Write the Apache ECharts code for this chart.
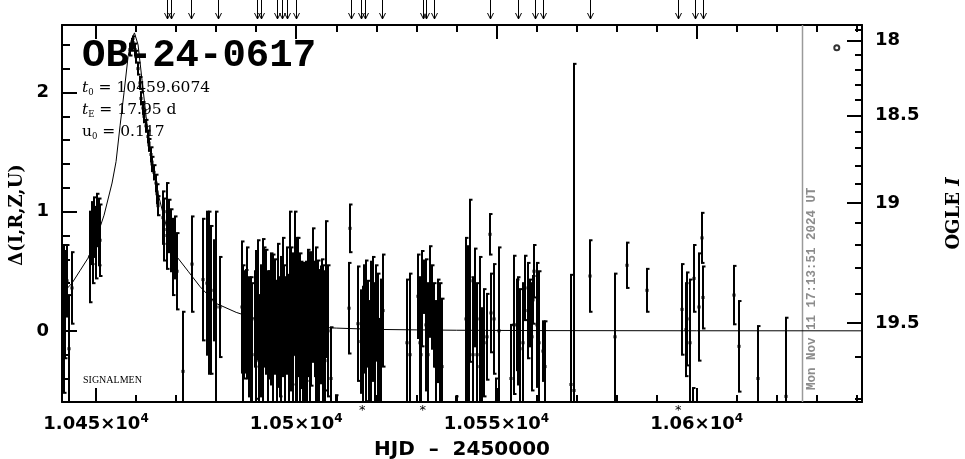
<!DOCTYPE html>
<html><head><meta charset="utf-8">
<script src="https://cdn.jsdelivr.net/npm/echarts@6/dist/echarts.min.js"></script>
<style>html,body{margin:0;padding:0;background:#fff}#c{width:965px;height:459px}</style>
</head><body><div id="c"></div>
<script>
// ---- axis ranges & ticks ----
const XMIN = 10441.5, XMAX = 10641.3;
const YMIN = -0.597, YMAX = 2.566;
const xMajor = [10450, 10500, 10550, 10600];
const xMinor = [10450,10460,10470,10480,10490,10500,10510,10520,10530,10540,10550,10560,10570,10580,10590,10600,10610,10620,10630,10640];
const leftMajor = [0, 1, 2];
const leftMinor = [-0.4,-0.2,0.2,0.4,0.6,0.8,1.2,1.4,1.6,1.8,2.2,2.4];
const rightMajorLabels = ['18', '18.5', '19', '19.5'];
const rightMajorPos = [2.437, 1.807, 1.072, 0.067];
const rightMinorPos = [2.53, 2.316, 2.190, 2.064, 1.939, 1.672, 1.533, 1.387, 1.232, 0.907, 0.720, 0.529, 0.311, -0.219, -0.569];

// ---- model curve ----
const curveT = [10441.5,10444,10446,10448,10450,10452,10454,10455,10456,10457,10458,10458.8,10459.6,10460.5,10461.5,10462.5,10463.5,10464.5,10465.5,10467,10468.5,10470,10473,10476,10480,10485,10490,10495,10500,10505,10510,10520,10530,10540,10560,10600,10641.3];
const curveD = [0.31,0.40,0.505,0.61,0.77,0.97,1.24,1.42,1.72,2.00,2.30,2.44,2.50,2.40,2.10,1.80,1.52,1.32,1.15,0.95,0.76,0.63,0.50,0.37,0.23,0.155,0.10,0.066,0.045,0.032,0.023,0.012,0.008,0.005,0.002,0.0006,0.0002];

// ---- observations: time, delta, error ----
const obsT = [
10441.6,10441.9,10442.3,10442.7,10443.3,10444.0,
10448.6,10448.9,10449.2,10449.5,10449.9,10450.3,10450.7,10451.1,
10458.6,10458.9,10459.3,10459.7,10460.1,10460.5,10460.9,10461.3,10461.7,10462.1,10462.5,10462.9,10463.3,10463.7,10464.1,10464.5,10464.9,10465.2,10465.5,
10466.6,10467.0,10467.6,10467.8,10468.3,10468.8,10469.3,10469.8,10470.2,10471.7,10473.9,
10476.7,10477.6,10478.1,10478.8,10479.4,10480.0,10480.9,
10486.5,10487.0,10487.5,10488.3,10488.8,10489.6,10490.5,10491.1,10491.7,10492.5,10493.2,10494.2,10494.8,10495.5,10496.0,10496.3,10496.7,10497.0,10497.6,10498.1,10498.4,10498.9,10499.2,10499.6,10500.2,10500.4,10500.9,10501.3,10501.8,10502.1,10502.5,10502.9,10503.4,10503.8,10504.2,10504.6,10505.0,10505.4,10505.8,10506.1,10506.7,10507.1,10507.5,10507.9,10508.7,10510.0,
10486.8,10487.8,10489.0,10490.0,10490.8,10492.0,10492.9,10493.7,10495.2,10497.3,10498.6,10499.9,10501.0,10501.6,10502.7,10503.6,10504.9,10505.6,10506.4,10507.3,
10513.3,10513.5,10515.4,10516.2,10516.6,10517.5,10517.9,10518.6,10519.1,10519.7,10520.4,10521.1,10521.6,10516.9,10518.2,10520.0,10520.8,
10527.6,10528.5,10530.4,10530.8,10531.5,10532.0,10532.5,10532.9,10533.5,10534.4,10535.0,10535.5,10536.3,10531.2,10533.9,10536.0,
10540.0,10542.4,10542.8,10543.5,10544.1,10544.7,10545.2,10545.8,10546.4,10547.0,10547.7,10548.3,10548.7,10549.5,10549.9,10550.6,10543.2,10546.0,
10553.7,10554.3,10555.2,10555.5,10556.6,10557.2,10557.8,10558.5,10559.1,10559.5,10560.2,10560.7,10561.6,10562.2,10556.0,10558.9,
10568.6,10569.3,10573.4,10579.5,10582.7,10587.5,10596.3,10597.3,10597.6,10598.4,10599.0,10599.4,10600.5,10601.4,10601.5,10609.4,10610.5,10615.4,10622.4
];
const obsD = [
-0.38,0.10,0.22,0.42,-0.15,0.36,
0.62,0.82,0.70,0.87,0.74,0.93,0.83,0.76,
2.36,2.40,2.42,2.36,2.30,2.20,2.08,1.95,1.87,1.80,1.72,1.63,1.56,1.48,1.40,1.33,1.24,1.15,1.05,
0.95,0.85,1.00,0.80,0.88,0.76,0.62,0.70,0.50,-0.34,0.56,
0.43,0.40,0.32,0.26,0.34,0.20,0.20,
0.20,0.05,0.08,-0.05,-0.15,0.10,0.26,0.00,-0.03,0.16,0.05,-0.10,0.12,0.13,-0.05,-0.10,0.20,0.10,0.17,-0.08,0.32,0.05,-0.05,0.40,0.00,0.20,-0.12,0.05,0.12,-0.10,0.08,0.15,-0.05,0.02,0.30,0.10,-0.08,-0.15,0.06,0.05,-0.20,0.00,0.35,0.00,-0.40,-0.70,
-0.10,0.15,-0.20,0.05,-0.25,0.20,-0.15,0.10,-0.20,-0.15,0.10,-0.20,0.15,-0.25,-0.15,0.20,0.15,-0.30,0.18,-0.25,
0.19,0.86,0.06,-0.09,-0.15,0.00,0.06,-0.05,0.10,-0.20,-0.05,-0.15,0.17,0.10,-0.25,0.15,-0.30,
-0.10,-0.20,0.29,-0.10,0.27,0.37,0.05,-0.20,0.33,0.05,-0.30,0.00,-0.30,-0.20,0.20,-0.10,
-0.70,0.10,0.05,0.42,-0.20,0.28,-0.20,0.10,-0.35,-0.10,-0.05,0.81,0.15,0.10,-0.60,0.00,-0.15,-0.30,
-0.40,0.05,0.05,0.00,-0.10,0.36,0.17,0.15,0.26,0.50,0.05,-0.10,-0.17,-0.30,-0.15,-0.05,
-0.45,-0.50,0.46,-0.05,0.55,0.34,0.18,0.01,0.10,-0.10,-0.60,0.44,0.20,0.78,0.28,0.30,-0.13,-0.40,-0.55
];
const obsE = [
0.30,0.62,0.45,0.30,0.45,0.30,
0.38,0.26,0.30,0.25,0.30,0.22,0.28,0.30,
0.05,0.05,0.05,0.05,0.05,0.05,0.05,0.05,0.05,0.05,0.05,0.05,0.05,0.06,0.06,0.06,0.07,0.08,0.08,
0.22,0.26,0.24,0.28,0.22,0.26,0.32,0.26,0.32,0.50,0.40,
0.51,0.60,0.68,0.62,0.42,0.80,0.42,
0.55,0.45,0.43,0.50,0.60,0.40,0.50,0.55,0.80,0.52,0.45,0.74,0.48,0.60,0.50,0.72,0.58,0.45,0.53,0.55,0.68,0.50,0.70,0.60,0.78,0.58,0.55,0.53,0.45,0.67,0.50,0.53,0.71,0.48,0.56,0.48,0.55,0.74,0.45,0.49,0.75,0.50,0.57,0.55,0.43,0.16,
0.65,0.55,0.60,0.62,0.55,0.50,0.65,0.55,0.62,0.60,0.60,0.65,0.50,0.55,0.60,0.45,0.55,0.45,0.42,0.55,
0.38,0.20,0.48,0.43,0.52,0.59,0.36,0.63,0.52,0.60,0.53,0.58,0.47,0.45,0.50,0.40,0.40,
0.53,0.68,0.35,0.55,0.40,0.22,0.55,0.60,0.38,0.35,0.55,0.43,0.57,0.50,0.35,0.50,
0.15,0.68,0.66,0.68,0.65,0.41,0.60,0.52,0.54,0.45,0.36,0.17,0.33,0.46,0.20,0.70,0.60,0.45,
0.45,0.58,0.38,0.45,0.50,0.27,0.40,0.28,0.20,0.22,0.52,0.60,0.25,0.38,0.50,0.45,
0.92,2.74,0.30,0.53,0.19,0.18,0.38,0.39,0.39,0.53,0.12,0.28,0.45,0.21,0.26,0.245,0.38,0.44,0.66
];

// ---- annotations ----
const arrowT = [10467.8,10468.8,10473.6,10480.4,10490.3,10491.3,10495.3,10496.4,10497.8,10500.0,10513.7,10516.2,10517.2,10521.5,10531.6,10532.5,10534.5,10548.4,10555.5,10559.7,10561.6,10573.4,10595.4,10599.6,10601.5];
const starT = [10516.5, 10531.6, 10595.4];
const nowT = [10626.2];
const markerT = [10635.0], markerD = [2.376];
const dateText = 'Mon Nov 11 17:13:51 2024 UT';

const chart = echarts.init(document.getElementById('c'), null, {renderer: 'canvas'});

const BLK = '#000';
const tickStyle = {color: BLK, width: 2};
const lblBase = {fontFamily: 'DejaVu Sans', fontWeight: 'bold', fontSize: 18, color: BLK};

function xAx(pos, vals, len, labels, line) {
  return {
    type: 'value', position: pos, min: XMIN, max: XMAX,
    axisLine: {show: line, onZero: false, lineStyle: {color: BLK, width: 2}},
    axisTick: {show: true, inside: true, length: len, lineStyle: tickStyle, customValues: vals},
    axisLabel: labels ? {
      show: true, customValues: vals, margin: 11,
      formatter: v => '{m|' + String(+(v / 1e4).toFixed(4)) + '×10}{s|4}',
      rich: {
        m: {fontFamily: 'DejaVu Sans', fontWeight: 'bold', fontSize: 18, lineHeight: 22, color: BLK},
        s: {fontFamily: 'DejaVu Sans', fontWeight: 'bold', fontSize: 12, lineHeight: 14, verticalAlign: 'top', color: BLK}
      }
    } : {show: false},
    splitLine: {show: false}
  };
}
function yAx(pos, vals, len, labelFmt, line) {
  return {
    type: 'value', position: pos, min: YMIN, max: YMAX,
    axisLine: {show: line, onZero: false, lineStyle: {color: BLK, width: 2}},
    axisTick: {show: true, inside: true, length: len, lineStyle: tickStyle, customValues: vals},
    axisLabel: labelFmt ? Object.assign({show: true, customValues: vals, margin: 13, formatter: labelFmt}, lblBase) : {show: false},
    splitLine: {show: false}
  };
}

function renderErr(params, api) {
  const t = api.value(0), d = api.value(1), e = api.value(2);
  const p0 = api.coord([t, d + e]), p1 = api.coord([t, d - e]), pc = api.coord([t, d]);
  const x = Math.round(p0[0]);
  const st = {stroke: BLK, lineWidth: 2};
  return {type: 'group', children: [
    {type: 'line', shape: {x1: x, y1: p0[1], x2: x, y2: p1[1]}, style: st},
    {type: 'line', shape: {x1: x - 1, y1: p0[1], x2: x + 2.5, y2: p0[1]}, style: st},
    {type: 'line', shape: {x1: x - 1, y1: p1[1], x2: x + 2.5, y2: p1[1]}, style: st},
    {type: 'rect', shape: {x: x - 1.5, y: pc[1] - 1.5, width: 3, height: 3}, style: {fill: BLK}}
  ]};
}
function renderArrow(params, api) {
  const x = Math.round(api.coord([api.value(0), 0])[0]) + 0.5;
  const yTip = params.coordSys.y - 6;
  const st = {stroke: BLK, lineWidth: 1, fill: null};
  return {type: 'group', children: [
    {type: 'line', shape: {x1: x, y1: 0, x2: x, y2: yTip}, style: st},
    {type: 'polyline', shape: {points: [[x - 3, yTip - 6], [x, yTip], [x + 3, yTip - 6]]}, style: st}
  ]};
}
function renderStar(params, api) {
  const x = api.coord([api.value(0), 0])[0];
  const cs = params.coordSys;
  return {type: 'text', x: x, y: cs.y + cs.height + 9,
    style: {text: '*', fill: BLK, font: '13px "DejaVu Sans"', align: 'center', verticalAlign: 'middle'}};
}
function renderNow(params, api) {
  const x = Math.round(api.coord([api.value(0), 0])[0]) + 0.5;
  const cs = params.coordSys;
  return {type: 'group', children: [
    {type: 'line', shape: {x1: x, y1: cs.y, x2: x, y2: cs.y + cs.height}, style: {stroke: '#9a9a9a', lineWidth: 1.5}},
    {type: 'text', x: x + 9, y: cs.y + cs.height - 12, rotation: Math.PI / 2,
      style: {text: dateText, fill: '#8c8c8c', font: 'bold 12.5px "Liberation Mono"', align: 'left', verticalAlign: 'middle'}}
  ]};
}

const paramRich = {
  i: {fontStyle: 'italic', fontFamily: 'DejaVu Serif', fontSize: 15.5, lineHeight: 19},
  n: {fontFamily: 'DejaVu Serif', fontSize: 15.5, lineHeight: 19},
  b: {fontFamily: 'DejaVu Serif', fontSize: 8.5, lineHeight: 6, verticalAlign: 'bottom'}
};

const option = {
  animation: false,
  backgroundColor: '#fff',
  grid: {left: 62, right: 103, top: 25, bottom: 57, containLabel: false},
  xAxis: [
    xAx('bottom', xMajor, 14, true, true),
    xAx('bottom', xMinor, 7, false, false),
    xAx('top', xMajor, 14, false, true),
    xAx('top', xMinor, 7, false, false)
  ],
  yAxis: [
    yAx('left', leftMajor, 15, v => String(Math.round(v)), true),
    yAx('left', leftMinor, 8, null, false),
    yAx('right', rightMajorPos, 15, v => {
      for (let i = 0; i < rightMajorPos.length; i++) if (Math.abs(rightMajorPos[i] - v) < 1e-6) return rightMajorLabels[i];
      return '';
    }, true),
    yAx('right', rightMinorPos, 7, null, false)
  ],
  graphic: {elements: [
    {type: 'text', x: 82, y: 56, z: 1, style: {text: 'OB-24-0617', font: 'bold 39px "Liberation Mono"', fill: BLK, align: 'left', verticalAlign: 'middle'}},
    {type: 'text', x: 82, y: 88, z: 1, style: {text: '{i|t}{b|0}{n| = 10459.6074}', font: '15.5px "DejaVu Serif"', fill: BLK, align: 'left', verticalAlign: 'middle', rich: paramRich}},
    {type: 'text', x: 82, y: 110, z: 1, style: {text: '{i|t}{b|E}{n| = 17.95 d}', font: '15.5px "DejaVu Serif"', fill: BLK, align: 'left', verticalAlign: 'middle', rich: paramRich}},
    {type: 'text', x: 82, y: 132, z: 1, style: {text: '{n|u}{b|0}{n| = 0.117}', font: '15.5px "DejaVu Serif"', fill: BLK, align: 'left', verticalAlign: 'middle', rich: paramRich}},
    {type: 'text', x: 83, y: 380, z: 1, style: {text: 'SIGNALMEN', font: '10px "Liberation Serif"', fill: BLK, align: 'left', verticalAlign: 'middle'}},
    {type: 'text', x: 17.5, y: 215, rotation: Math.PI / 2, style: {text: 'Δ(I,R,Z,U)', font: 'bold 18px "DejaVu Serif"', fill: BLK, align: 'center', verticalAlign: 'middle'}},
    {type: 'text', x: 954, y: 213.5, rotation: Math.PI / 2, style: {text: 'OGLE {i|I}', font: 'bold 18px "DejaVu Serif"', fill: BLK, align: 'center', verticalAlign: 'middle',
      rich: {i: {fontFamily: 'DejaVu Serif', fontWeight: 'bold', fontStyle: 'italic', fontSize: 18}}}},
    {type: 'text', x: 462, y: 450, style: {text: 'HJD  –  2450000', font: 'bold 20px "DejaVu Sans"', fill: BLK, align: 'center', verticalAlign: 'middle'}}
  ]},
  series: [
    {type: 'line', name: 'model', xAxisIndex: 0, yAxisIndex: 0, data: curveT.map((t, i) => [t, curveD[i]]),
      showSymbol: false, symbol: 'none', lineStyle: {color: BLK, width: 1}, clip: true, silent: true, z: 2},
    {type: 'custom', name: 'obs', xAxisIndex: 0, yAxisIndex: 0, clip: true, silent: true, z: 3,
      data: obsT.map((t, i) => [t, obsD[i], obsE[i]]), encode: {x: 0, y: 1}, renderItem: renderErr},
    {type: 'custom', name: 'arrows', xAxisIndex: 0, yAxisIndex: 0, clip: false, silent: true,
      data: arrowT.map(t => [t, 0]), encode: {x: 0, y: 1}, renderItem: renderArrow},
    {type: 'custom', name: 'stars', xAxisIndex: 0, yAxisIndex: 0, clip: false, silent: true,
      data: starT.map(t => [t, 0]), encode: {x: 0, y: 1}, renderItem: renderStar},
    {type: 'custom', name: 'now', xAxisIndex: 0, yAxisIndex: 0, clip: false, silent: true, z: 1,
      data: nowT.map(t => [t, 0]), encode: {x: 0, y: 1}, renderItem: renderNow},
    {type: 'scatter', name: 'marker', xAxisIndex: 0, yAxisIndex: 0, silent: true,
      data: markerT.map((t, i) => [t, markerD[i]]), symbol: 'emptyCircle', symbolSize: 5,
      itemStyle: {color: BLK, borderColor: BLK, borderWidth: 2}}
  ]
};
chart.setOption(option);
</script></body></html>
